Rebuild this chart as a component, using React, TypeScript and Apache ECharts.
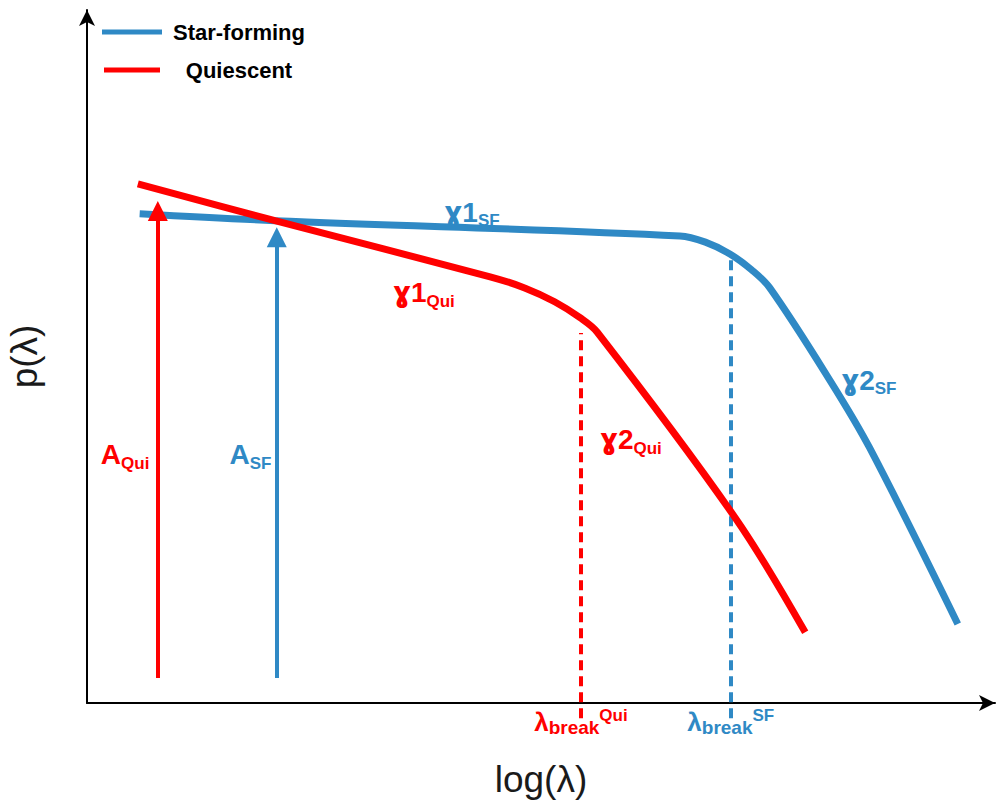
import React, { useEffect, useRef } from "react";
import * as echarts from "echarts";

// Broken power-law sketch: p(λ) versus log(λ) for two galaxy populations.
const BLUE = "#2f89c5";
const RED = "#ff0000";
const FONT = "Liberation Sans, Arial, Helvetica, sans-serif";
const GAMMA_FONT = "DejaVu Sans, Liberation Sans, sans-serif";

// Star-forming curve [log λ, p]
const sfCurve: [number, number][] = [
  [0.58, 7.06], [2.07, 6.96], [6.53, 6.74], [6.81, 6.65], [7.08, 6.48],
  [7.32, 6.25], [7.52, 5.99], [8.18, 4.66], [8.62, 3.68], [9.59, 1.14],
];
// Quiescent curve [log λ, p]
const quiCurve: [number, number][] = [
  [0.56, 7.49], [2.07, 6.96], [4.44, 6.15], [4.82, 5.99], [5.15, 5.79],
  [5.43, 5.56], [5.62, 5.35], [7.14, 2.67], [7.91, 1.02],
];
// Normalisation arrows (from, to); the head is centred on the end point
const aQuiArrow: [number, number][] = [[0.78, 0.36], [0.78, 7.1]];
const aSfArrow: [number, number][] = [[2.09, 0.36], [2.09, 6.72]];
// Break positions (dashed guides)
const breakQui: [number, number][] = [[5.44, -0.22], [5.44, 5.34]];
const breakSf: [number, number][] = [[7.09, -0.22], [7.09, 6.46]];

// Annotation labels: [x, y, rich text]
const blueLabels: [number, number, string][] = [
  [1.8, 3.58, "{big|A}{sub|SF}"],
  [4.24, 7.08, "{gam|ɣ}{big|1}{sub|SF}"],
  [8.61, 4.66, "{gam|ɣ}{big|2}{sub|SF}"],
  [7.09, -0.28, "{lam|λ}{lsub|break}{sup|SF}"],
];
const redLabels: [number, number, string][] = [
  [0.42, 3.58, "{big|A}{sub|Qui}"],
  [3.71, 5.92, "{gam|ɣ}{big|1}{sub|Qui}"],
  [5.99, 3.8, "{gam|ɣ}{big|2}{sub|Qui}"],
  [5.44, -0.28, "{lam|λ}{lsub|break}{sup|Qui}"],
];

const richFor = (color: string) => ({
  big: { fontSize: 28, fontWeight: "bold", fontFamily: FONT, color, lineHeight: 34 },
  gam: { fontSize: 28, fontWeight: "bold", fontFamily: GAMMA_FONT, color, lineHeight: 34 },
  sub: { fontSize: 17, fontWeight: "bold", fontFamily: FONT, color, lineHeight: 20, verticalAlign: "bottom" },
  lam: { fontSize: 26, fontWeight: "bold", fontFamily: FONT, color, lineHeight: 30 },
  lsub: { fontSize: 19, fontWeight: "bold", fontFamily: FONT, color, lineHeight: 16, verticalAlign: "bottom" },
  sup: { fontSize: 17, fontWeight: "bold", fontFamily: FONT, color, lineHeight: 18, verticalAlign: "top" },
});

const labelSeries = (labels: [number, number, string][], color: string) => ({
  type: "scatter",
  symbolSize: 0,
  clip: false,
  silent: true,
  z: 5,
  itemStyle: { opacity: 1 },
  data: labels.map(([x, y, t]) => ({ value: [x, y], text: t })),
  label: {
    show: true,
    position: "inside",
    align: "center",
    verticalAlign: "middle",
    opacity: 1,
    formatter: (p: any) => p.data.text,
    rich: richFor(color),
  },
});

const arrowSeries = (pts: [number, number][], color: string) => ({
  type: "lines",
  coordinateSystem: "cartesian2d",
  clip: false,
  silent: true,
  z: 4,
  symbol: ["none", "triangle"],
  symbolSize: 20,
  lineStyle: { color, width: 4, opacity: 1 },
  itemStyle: { color },
  data: [{ coords: pts }],
});

const dashSeries = (pts: [number, number][], color: string) => ({
  type: "lines",
  coordinateSystem: "cartesian2d",
  clip: false,
  silent: true,
  z: 2,
  lineStyle: { color, width: 4, type: [10, 6], opacity: 1 },
  data: [{ coords: pts }],
});

const curveSeries = (name: string, pts: [number, number][], color: string) => ({
  name,
  type: "line",
  data: pts,
  showSymbol: false,
  smooth: 0.35,
  clip: false,
  silent: true,
  z: 3,
  lineStyle: { color, width: 7, cap: "butt" },
});

export default function App() {
  const ref = useRef<HTMLDivElement>(null);

  useEffect(() => {
    if (!ref.current) return;
    const chart = echarts.init(ref.current, null, { renderer: "svg" });
    chart.setOption({
      animation: false,
      backgroundColor: "#ffffff",
      grid: { left: 87, right: 2, top: 10, bottom: 102, outerBoundsMode: "none", containLabel: false },
      xAxis: {
        type: "value",
        min: 0,
        max: 10,
        name: "log(λ)",
        nameLocation: "middle",
        nameGap: 58,
        nameTextStyle: { fontSize: 37, fontFamily: FONT, color: "#1a1a1a" },
        axisLine: { show: true, onZero: false, symbol: ["none", "arrow"], symbolSize: [12, 16], lineStyle: { color: "#000", width: 2 } },
        axisTick: { show: false },
        axisLabel: { show: false },
        splitLine: { show: false },
      },
      yAxis: {
        type: "value",
        min: 0,
        max: 10,
        name: "p(λ)",
        nameLocation: "middle",
        nameGap: 44,
        nameRotate: 90,
        nameTextStyle: { fontSize: 37, fontFamily: FONT, color: "#1a1a1a" },
        axisLine: { show: true, onZero: false, symbol: ["none", "arrow"], symbolSize: [12, 16], lineStyle: { color: "#000", width: 2 } },
        axisTick: { show: false },
        axisLabel: { show: false },
        splitLine: { show: false },
      },
      graphic: [
        { type: "line", shape: { x1: 102, y1: 32, x2: 162, y2: 32 }, style: { stroke: BLUE, lineWidth: 5 } },
        { type: "text", x: 239, y: 32, style: { text: "Star-forming", fontSize: 22, fontWeight: "bold", fontFamily: FONT, fill: "#000", align: "center", verticalAlign: "middle" } },
        { type: "line", shape: { x1: 104, y1: 70, x2: 160, y2: 70 }, style: { stroke: RED, lineWidth: 5 } },
        { type: "text", x: 239, y: 70, style: { text: "Quiescent", fontSize: 22, fontWeight: "bold", fontFamily: FONT, fill: "#000", align: "center", verticalAlign: "middle" } },
      ],
      series: [
        dashSeries(breakQui, RED),
        dashSeries(breakSf, BLUE),
        curveSeries("Star-forming", sfCurve, BLUE),
        curveSeries("Quiescent", quiCurve, RED),
        arrowSeries(aQuiArrow, RED),
        arrowSeries(aSfArrow, BLUE),
        labelSeries(blueLabels, BLUE),
        labelSeries(redLabels, RED),
      ],
    });
    return () => chart.dispose();
  }, []);

  return <div ref={ref} style={{ width: 997, height: 805, position: "absolute", left: 0, top: 0 }} />;
}
